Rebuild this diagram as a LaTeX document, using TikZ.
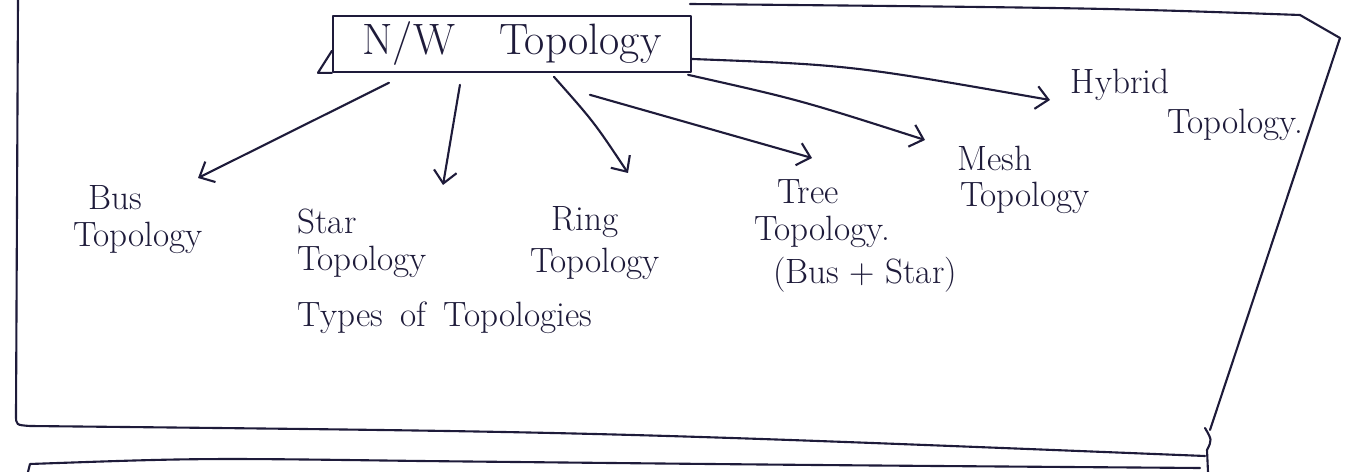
\documentclass[tikz,border=0pt]{standalone}
\usetikzlibrary{arrows.meta,calc}
\definecolor{ink}{HTML}{1E1B3A}
\begin{document}
\begin{tikzpicture}[x=0.02cm,y=-0.02cm,
  inkline/.style={draw=ink, line width=1.2pt, line cap=round, line join=round},
  link/.style={inkline, -{Straight Barb[length=7pt,width=13pt,line width=1.2pt]}},
  lbl/.style={text=ink, font=\fontsize{20}{22}\selectfont, inner sep=0pt, anchor=center},
  rootbox/.style={inkline, minimum width=358*0.02cm, minimum height=54*0.02cm,
    font=\fontsize{25}{27}\selectfont, text=ink},
]
\useasboundingbox (0,0) rectangle (1350,472);
\fill[white] (0,0) rectangle (1350,472);

% page frame around the topology chart
\draw[inkline] (18,0) -- (16,415) .. controls (16,425) .. (30,426)
  .. controls (600,432) .. (1205,456);
\draw[inkline] (690,4) .. controls (1100,8) .. (1300,15) -- (1340,38)
  -- (1210,430);
\draw[inkline] (1205,428) .. controls (1212,440) .. (1207,450) -- (1208,472);
% start of the next frame
\draw[inkline] (28,472) -- (30,464) .. controls (200,458) .. (420,461)
  .. controls (800,465) .. (1200,468);

% root
\node[rootbox, draw] (nw) at (512,44) {N/W\quad Topology};
\draw[inkline] (nw.south west) -- ++(-14,0) -- ++(14,-22);

% topology labels
\node[lbl] (bus1) at (115,198) {Bus};
\node[lbl] (bus2) at (138,238) {Topology};
\node[lbl] (star1) at (327,222) {Star};
\node[lbl] (star2) at (362,262) {Topology};
\node[lbl] (ring1) at (585,222) {Ring};
\node[lbl] (ring2) at (595,264) {Topology};
\node[lbl] (tree1) at (808,192) {Tree};
\node[lbl] (tree2) at (822,232) {Topology.};
\node[lbl] (tree3) at (865,275) {(Bus + Star)};
\node[lbl] (mesh1) at (995,158) {Mesh};
\node[lbl] (mesh2) at (1025,198) {Topology};
\node[lbl] (hyb1) at (1120,85) {Hybrid};
\node[lbl] (hyb2) at (1235,125) {Topology.};
\node[lbl] (types) at (445,318) {Types\enspace of\enspace Topologies};

% arrow tips sit just above each label
\coordinate (tbus)  at (198,178);
\coordinate (tstar) at (443,185);
\coordinate (tring) at (628,173);
\coordinate (ttree) at (812,158);
\coordinate (tmesh) at (925,140);
\coordinate (thyb)  at (1050,100);

\draw[link] ($(nw.south west)+(57,10)$) -- (tbus);
\draw[link] ($(nw.south west)+(128,12)$) -- (tstar);
\draw[link] ($(nw.south west)+(222,4)$) .. controls (594,122) .. (tring);
\draw[link] ($(nw.south west)+(258,22)$) -- (ttree);
\draw[link] ($(nw.south east)+(-4,2)$) .. controls (800,100) .. (tmesh);
\draw[link] ($(nw.east)+(0,15)$) .. controls (850,65) .. (thyb);
\end{tikzpicture}
\end{document}
